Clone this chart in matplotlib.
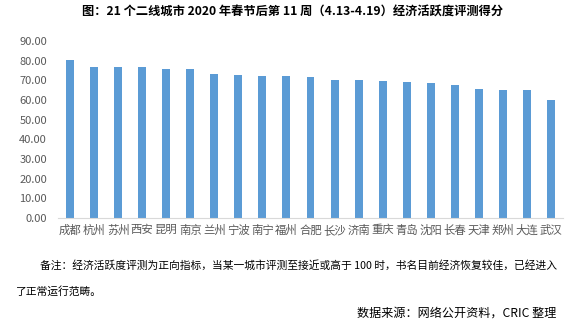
import matplotlib
matplotlib.use("Agg")
import matplotlib.pyplot as plt
import numpy as np

plt.rcParams["font.family"] = ["Noto Sans CJK SC", "DejaVu Sans"]

cities = ["成都", "杭州", "苏州", "西安", "昆明", "南京", "兰州", "宁波", "南宁", "福州", "合肥",
          "长沙", "济南", "重庆", "青岛", "沈阳", "长春", "天津", "郑州", "大连", "武汉"]
scores = [80.3, 76.8, 76.8, 76.8, 75.7, 75.7, 73.2, 72.7, 72.2, 72.2, 71.7,
          70.2, 70.2, 69.6, 69.1, 68.6, 67.6, 65.6, 65.1, 65.1, 60.0]
yticks = [0, 10, 20, 30, 40, 50, 60, 70, 80, 90]

title = "图：21 个二线城市 2020 年春节后第 11 周（4.13-4.19）经济活跃度评测得分"
note1 = "备注：经济活跃度评测为正向指标，当某一城市评测至接近或高于 100 时，书名目前经济恢复较佳，已经进入"
note2 = "了正常运行范畴。"
source = "数据来源：网络公开资料，CRIC 整理"

fig = plt.figure(figsize=(5.71, 3.24), dpi=100)
ax = fig.add_axes([0.1016, 0.327, 0.8844, 0.546])

x = np.arange(len(cities))
ax.bar(x, scores, width=0.33, color="#5B9BD5")
ax.set_xlim(-0.5, len(cities) - 0.5)
ax.set_ylim(0, 90)
ax.set_yticks(yticks)
ax.set_yticklabels([f"{v:.2f}" for v in yticks], fontsize=8, color="#595959")
ax.set_xticks(x)
ax.set_xticklabels(cities, fontsize=8.2, color="#595959")
ax.tick_params(axis="y", length=0, pad=8)
ax.tick_params(axis="x", length=0, pad=5)
for s in ["top", "right", "left"]:
    ax.spines[s].set_visible(False)
ax.spines["bottom"].set_color("#D9D9D9")

fig.text(0.512, 0.963, title, ha="center", va="center", fontsize=8.8, fontweight="bold", color="#000000")
fig.text(0.07, 0.182, note1, ha="left", va="center", fontsize=7.75, color="#000000")
fig.text(0.028, 0.099, note2, ha="left", va="center", fontsize=7.75, color="#000000")
fig.text(0.975, 0.034, source, ha="right", va="center", fontsize=8.7, color="#000000")

fig.savefig("out.png", dpi=100)
